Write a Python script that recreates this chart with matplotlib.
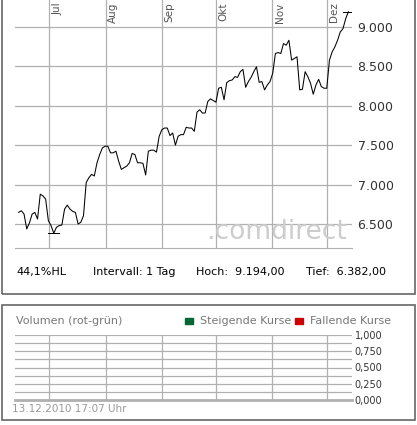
import matplotlib
matplotlib.use("Agg")
import matplotlib.pyplot as plt
import pandas as pd
import numpy as np

close = [6647,6668,6626,6437,6513,6626,6647,6563,6878,6857,6815,6542,6479,6382,6458,6479,6487,
 6689,6739,6689,6660,6647,6500,6521,6605,7025,7088,7130,7109,7277,7382,7466,7487,7487,7403,7403,
 7424,7298,7193,7214,7235,7277,7395,7382,7277,7277,7269,7122,7424,7437,7437,7412,7613,7697,7718,
 7718,7622,7655,7500,7613,7634,7634,7727,7718,7718,7676,7920,7950,7908,7908,8055,8088,8067,8046,
 8223,8235,8076,8294,8319,8328,8370,8361,8433,8462,8235,8307,8361,8433,8496,8298,8307,8202,8265,
 8307,8412,8664,8676,8664,8790,8769,8832,8580,8601,8622,8202,8210,8433,8370,8286,8147,8265,8336,
 8244,8223,8223,8580,8685,8748,8832,8937,8979,9105,9194]
start, end = "2010-06-14", "2010-12-13"
months = ["Jul","Aug","Sep","Okt","Nov","Dez"]
month_starts = ["2010-07-01","2010-08-01","2010-09-01","2010-10-01","2010-11-01","2010-12-01"]
price_ticks = [6500,7000,7500,8000,8500,9000]
price_labels = ["6.500","7.000","7.500","8.000","8.500","9.000"]
vol_ticks = [0,0.25,0.5,0.75,1.0]
vol_labels = ["0,000","0,250","0,500","0,750","1,000"]

dates = pd.date_range(start, end, periods=len(close))
ms = pd.to_datetime(month_starts)
W,H = 417,425
fig = plt.figure(figsize=(W/100,H/100), dpi=100)
fig.patch.set_facecolor("white")
grid = "#b0b0b0"; txt = "#333333"

def rect(x0,y0,x1,y1):
    fig.add_artist(plt.Rectangle((x0/W,1-y1/H),(x1-x0)/W,(y1-y0)/H,fill=False,ec="#666666",lw=1.2,transform=fig.transFigure))
rect(2,-5,415,294)
rect(2,305,415,420)

ax = fig.add_axes([15/W, 1-248/H, 337/W, 248/H])
ax.plot(dates, close, color="black", lw=0.75)
ymin, ymax = 6195, 9343
ax.set_ylim(ymin, ymax)
ax.set_xlim(pd.Timestamp("2010-06-12"), pd.Timestamp("2010-12-15"))
for y in price_ticks:
    ax.axhline(y, color=grid, lw=0.9, zorder=0)
for m, lab in zip(ms, months):
    ax.axvline(m, color=grid, lw=0.9, zorder=0)
    ax.text(m+pd.Timedelta(days=1.5), ymax-30, lab, rotation=90, va="top", ha="left", fontsize=7.5, color="#555555")
lo = int(np.argmin(close)); hi = int(np.argmax(close))
ax.plot([dates[lo]-pd.Timedelta(days=3), dates[lo]+pd.Timedelta(days=3)], [close[lo]]*2, color="black", lw=0.7)
ax.plot([dates[hi]-pd.Timedelta(days=3), dates[hi]+pd.Timedelta(days=3)], [close[hi]]*2, color="black", lw=0.7)
ax.set_yticks(price_ticks); ax.set_yticklabels(price_labels)
ax.yaxis.tick_right()
ax.tick_params(axis="y", length=0, labelsize=9, colors=txt, pad=4)
ax.set_xticks([])
for s in ["top","left","right"]:
    ax.spines[s].set_visible(False)
ax.spines["bottom"].set_color(grid)
ax.text(0.985, 0.065, ".comdirect", transform=ax.transAxes, ha="right", va="center", fontsize=19, color="#cccccc", zorder=0)

fy = 1-272/H
fig.text(16/W, fy, "44,1%HL", fontsize=8, color="black", va="center")
fig.text(93/W, fy, "Intervall: 1 Tag", fontsize=8, color="black", va="center")
fig.text(196/W, fy, "Hoch:  9.194,00", fontsize=8, color="black", va="center")
fig.text(306/W, fy, "Tief:  6.382,00", fontsize=8, color="black", va="center")

vx = fig.add_axes([15/W, 1-400/H, 337/W, 65/H])
vx.set_ylim(0,1); vx.set_xlim(ax.get_xlim())
for y in np.arange(0.125,1.01,0.125):
    vx.axhline(y, color=grid, lw=0.9)
for m in ms:
    vx.axvline(m, color=grid, lw=0.9)
vx.set_yticks(vol_ticks); vx.set_yticklabels(vol_labels)
vx.yaxis.tick_right()
vx.tick_params(axis="y", length=0, labelsize=7, colors=txt, pad=2)
vx.set_xticks([])
for s in ["top","left","right"]:
    vx.spines[s].set_visible(False)
vx.spines["bottom"].set_color(grid); vx.spines["bottom"].set_linewidth(2)

ly = 1-321/H
fig.text(16/W, ly, "Volumen (rot-grün)", fontsize=8, color="#777777", va="center")
fig.add_artist(plt.Rectangle((185/W, ly-3/H), 8/W, 6/H, color="#006633", transform=fig.transFigure))
fig.text(200/W, ly, "Steigende Kurse", fontsize=8, color="#777777", va="center")
fig.add_artist(plt.Rectangle((295/W, ly-3/H), 8/W, 6/H, color="#cc0000", transform=fig.transFigure))
fig.text(310/W, ly, "Fallende Kurse", fontsize=8, color="#777777", va="center")
fig.text(12/W, 1-409/H, "13.12.2010 17:07 Uhr", fontsize=7.5, color="#999999", va="center")

fig.savefig("out.png", dpi=100)
